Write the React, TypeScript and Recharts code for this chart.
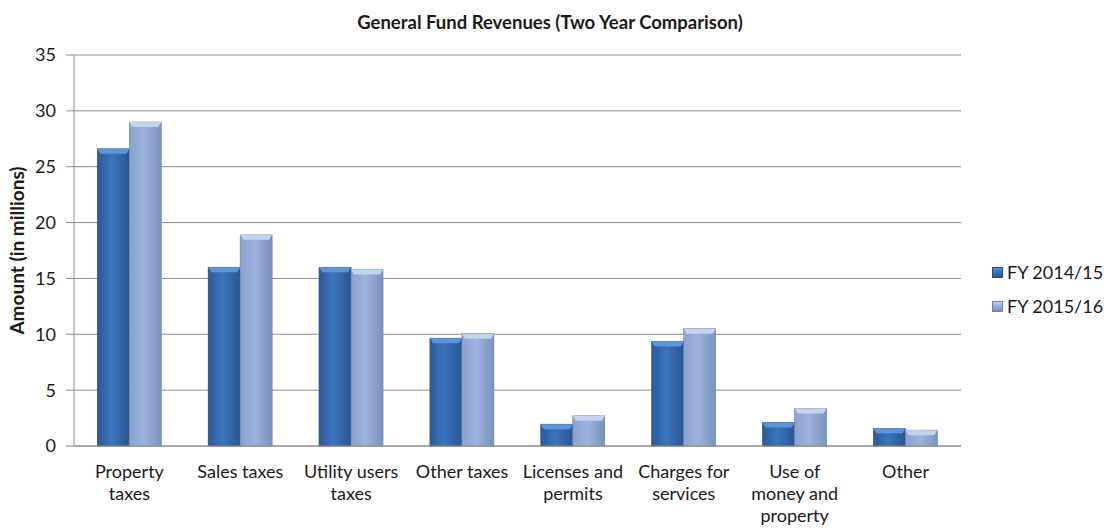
import { BarChart, Bar, XAxis, YAxis, CartesianGrid } from 'recharts';

// Valores (milhões)
const categories = [
  'Property\ntaxes',
  'Sales taxes',
  'Utility users\ntaxes',
  'Other taxes',
  'Licenses and\npermits',
  'Charges for\nservices',
  'Use of\nmoney and\nproperty',
  'Other',
];
const fy1415 = [26.6, 16.0, 16.0, 9.65, 1.95, 9.35, 2.1, 1.58];
const fy1516 = [29.0, 18.9, 15.8, 10.05, 2.7, 10.5, 3.35, 1.42];
const yTicks = [0, 5, 10, 15, 20, 25, 30, 35];
const seriesNames = ['FY 2014/15', 'FY 2015/16'];

const data = categories.map((name, i) => ({ name, a: fy1415[i], b: fy1516[i] }));

const FONT = 'Lato, "Open Sans", sans-serif';
const INK = '#1a1a1a';
const GRID = '#8c8c8c';

const palette = {
  a: { left: '#2b5a99', mid: '#3b74bd', right: '#2a5592', cap: '#5f95d8', edge: '#244c82' },
  b: { left: '#8aa2cf', mid: '#9cb3dd', right: '#7b92bf', cap: '#c3d3ee', edge: '#6d83ac' },
};

// barra com "bisel" no topo, imitando o estilo 3D do Excel
function BevelBar(props: any) {
  const { x, y, width, height } = props;
  const tone = props.tone === 'b' ? 'b' : 'a';
  const c = palette[tone];
  if (!height || height <= 0) return null;
  const cap = Math.min(5, height);
  return (
    <g>
      <rect x={x} y={y} width={width} height={height} fill={`url(#grad-${tone})`} stroke={c.edge} strokeWidth={0.6} />
      <polygon
        points={`${x},${y} ${x + width},${y} ${x + width - 3},${y + cap} ${x + 3},${y + cap}`}
        fill={c.cap}
      />
    </g>
  );
}

function CatTick(props: any) {
  const { x, y, payload } = props;
  const lines = String(payload.value).split('\n');
  return (
    <text x={x} y={y + 24} textAnchor="middle" fill={INK} fontSize={18} fontFamily={FONT}>
      {lines.map((l, i) => (
        <tspan key={i} x={x} dy={i === 0 ? 0 : 22}>
          {l}
        </tspan>
      ))}
    </text>
  );
}

function LegendBox() {
  const tones = ['a', 'b'] as const;
  return (
    <div
      style={{
        position: 'absolute',
        left: 992,
        top: 255,
        fontFamily: FONT,
        fontSize: 18,
        color: INK,
      }}
    >
      {tones.map((t, i) => (
        <div key={t} style={{ display: 'flex', alignItems: 'center', height: 34 }}>
          <span
            style={{
              display: 'inline-block',
              width: 9,
              height: 9,
              marginRight: 4,
              background: `linear-gradient(180deg, ${palette[t].cap} 0%, ${palette[t].mid} 40%, ${palette[t].right} 100%)`,
              border: `1px solid ${palette[t].edge}`,
            }}
          />
          {seriesNames[i]}
        </div>
      ))}
    </div>
  );
}

export default function App() {
  return (
    <div style={{ position: 'absolute', left: 0, top: 0, width: 1104, height: 531, background: '#fff' }}>
      <div
        style={{
          position: 'absolute',
          top: 10,
          left: 0,
          width: 1100,
          textAlign: 'center',
          fontFamily: FONT,
          fontWeight: 700,
          fontSize: 18.5,
          color: INK,
          lineHeight: '24px',
        }}
      >
        General Fund Revenues (Two Year Comparison)
      </div>
      <BarChart
        width={1104}
        height={531}
        data={data}
        margin={{ top: 55, right: 143, left: 14, bottom: 0 }}
        barGap={0}
        barCategoryGap="21%"
      >
        <defs>
          {(['a', 'b'] as const).map((t) => (
            <linearGradient key={t} id={`grad-${t}`} x1="0" y1="0" x2="1" y2="0">
              <stop offset="0%" stopColor={palette[t].left} />
              <stop offset="45%" stopColor={palette[t].mid} />
              <stop offset="100%" stopColor={palette[t].right} />
            </linearGradient>
          ))}
        </defs>
        <CartesianGrid vertical={false} stroke={GRID} strokeWidth={1} />
        <XAxis
          dataKey="name"
          interval={0}
          tick={<CatTick />}
          tickLine={false}
          axisLine={{ stroke: GRID }}
          height={85}
        />
        <YAxis
          width={60}
          domain={[0, 35]}
          ticks={yTicks}
          interval={0}
          axisLine={{ stroke: GRID }}
          tickLine={{ stroke: GRID }}
          tickSize={8}
          tickMargin={10}
          tick={{ fill: INK, fontSize: 18, fontFamily: FONT }}
          label={{
            value: 'Amount (in millions)',
            angle: -90,
            position: 'insideLeft',
            offset: 3,
            style: { textAnchor: 'middle', fontFamily: FONT, fontWeight: 700, fontSize: 19, fill: INK },
          }}
        />
        <Bar dataKey="a" name={seriesNames[0]} shape={<BevelBar tone="a" />} isAnimationActive={false} />
        <Bar dataKey="b" name={seriesNames[1]} shape={<BevelBar tone="b" />} isAnimationActive={false} />
      </BarChart>
      <LegendBox />
    </div>
  );
}
